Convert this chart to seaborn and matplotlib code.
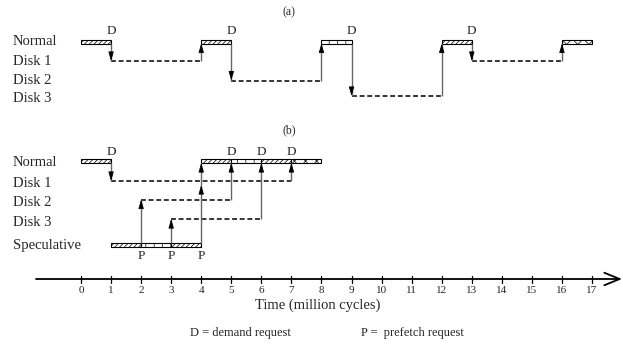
import matplotlib
matplotlib.use('Agg')
import matplotlib.pyplot as plt
import seaborn as sns

sns.set_style('white')
plt.rcParams['font.family'] = ['Liberation Serif', 'DejaVu Serif']
plt.rcParams['hatch.color'] = '#777777'
plt.rcParams['hatch.linewidth'] = 0.5

# ---------------- data ----------------
time_ticks = list(range(18))
rows_a = ['Normal', 'Disk 1', 'Disk 2', 'Disk 3']
rows_b = ['Normal', 'Disk 1', 'Disk 2', 'Disk 3', 'Speculative']

# panel (a): sequential execution
a_run_start = [0, 4, 8, 12, 16]
a_run_end = [1, 5, 9, 13, 17]
a_run_pattern = ['dense', 'dense', 'grid', 'dense', 'wave']
a_demand_time = [1, 5, 9, 13]
a_demand_disk = ['Disk 1', 'Disk 2', 'Disk 3', 'Disk 1']
a_return_time = [4, 8, 12, 16]

# panel (b): speculative execution
b_norm_start = [0, 4, 5, 6, 7]
b_norm_end = [1, 5, 6, 7, 8]
b_norm_pattern = ['dense', 'dense', 'grid', 'dense', 'wave']
b_spec_start = [1, 2, 3]
b_spec_end = [2, 3, 4]
b_spec_pattern = ['dense', 'grid', 'dense']
b_wait_disk = ['Disk 1', 'Disk 2', 'Disk 3']
b_wait_start = [1, 2, 3]
b_wait_end = [7, 5, 6]
b_demand_time = [1, 5, 6, 7]
b_prefetch_time = [2, 3, 4]

# ---------------- layout (pixel space vertically) ----------------
W, H = 623, 345
X0, U = 81.0, 30.06
row_y_a = {'Normal': 41.5, 'Disk 1': 61, 'Disk 2': 80.5, 'Disk 3': 96}
lab_y_a = {'Normal': 41.7, 'Disk 1': 61.7, 'Disk 2': 80.5, 'Disk 3': 98}
row_y_b = {'Normal': 161, 'Disk 1': 181, 'Disk 2': 199.5, 'Disk 3': 219, 'Speculative': 244.5}
lab_y_b = {'Normal': 162, 'Disk 1': 183.5, 'Disk 2': 202.7, 'Disk 3': 222.7, 'Speculative': 245}
BAR_H = 4.0
hatches = {'dense': '///////', 'grid': '||', 'wave': 'xxx'}
LINE_C = '#666666'

fig = plt.figure(figsize=(W / 100, H / 100), dpi=100)
ax = fig.add_axes([0, 0, 1, 1])
ax.set_xlim(-X0 / U, (W - X0) / U)
ax.set_ylim(H, 0)
ax.axis('off')

label_x = (13 - X0) / U


def bar(t0, t1, y, pat):
    ax.barh(y, t1 - t0, left=t0, height=BAR_H, color='white',
            edgecolor='black', linewidth=0.8, hatch=hatches[pat], zorder=3)


def arrow(t, y_from, y_to):
    ax.plot([t, t], [y_from, y_to], color=LINE_C, lw=1.0, zorder=4,
            solid_capstyle='butt')
    ax.annotate('', xy=(t, y_to), xytext=(t, y_to + (6 if y_to < y_from else -6)),
                arrowprops=dict(arrowstyle='-|>,head_length=0.55,head_width=0.16',
                                mutation_scale=10, lw=0.6, color='black',
                                shrinkA=0, shrinkB=0), zorder=5)


def dashed(t0, t1, y):
    ax.plot([t0, t1], [y, y], color='black', lw=1.1, ls=(0, (3.2, 1.8)), zorder=2)


# ---------------- panel (a) ----------------
ax.text((289 - X0) / U, 12, '(a)', ha='center', va='center', fontsize=8.5)
for r in rows_a:
    ax.text(label_x, lab_y_a[r], r, ha='left', va='center', fontsize=10.5)
for s, e, p in zip(a_run_start, a_run_end, a_run_pattern):
    bar(s, e, row_y_a['Normal'], p)
nb = row_y_a['Normal'] + BAR_H / 2
for t, d, r in zip(a_demand_time, a_demand_disk, a_return_time):
    ax.text(t, 31.5, 'D', ha='center', va='center', fontsize=9.5)
    arrow(t, nb, row_y_a[d])
    dashed(t, r, row_y_a[d])
    arrow(r, row_y_a[d], nb)

# ---------------- panel (b) ----------------
ax.text((289 - X0) / U, 130.5, '(b)', ha='center', va='center', fontsize=8.5)
for r in rows_b:
    ax.text(label_x, lab_y_b[r], r, ha='left', va='center', fontsize=10.5)
for s, e, p in zip(b_norm_start, b_norm_end, b_norm_pattern):
    bar(s, e, row_y_b['Normal'], p)
for s, e, p in zip(b_spec_start, b_spec_end, b_spec_pattern):
    bar(s, e, row_y_b['Speculative'], p)
nbb = row_y_b['Normal'] + BAR_H / 2
stop = row_y_b['Speculative'] - BAR_H / 2
for d, s, e in zip(b_wait_disk, b_wait_start, b_wait_end):
    dashed(s, e, row_y_b[d])
    arrow(e, row_y_b[d], nbb)
for t in b_demand_time:
    ax.text(t, 152, 'D', ha='center', va='center', fontsize=9.5)
# demand miss of the normal process
arrow(b_demand_time[0], nbb, row_y_b['Disk 1'])
# prefetches issued by the speculative process
for t, d in zip(b_prefetch_time[:2], ['Disk 2', 'Disk 3']):
    arrow(t, stop, row_y_b[d])
t4 = b_prefetch_time[2]
arrow(t4, stop, row_y_b['Disk 1'] + 4)
arrow(t4, row_y_b['Disk 1'] + 4, nbb)
for t in b_prefetch_time:
    ax.text(t, 256, 'P', ha='center', va='center', fontsize=9.5)

# ---------------- time axis ----------------
AX_Y = 279
ax.annotate('', xy=((622 - X0) / U, AX_Y), xytext=((36 - X0) / U, AX_Y),
            arrowprops=dict(arrowstyle='->,head_length=1.1,head_width=0.45',
                            mutation_scale=10, lw=1.3, color='black',
                            shrinkA=0, shrinkB=0))
for t in time_ticks:
    ax.plot([t, t], [AX_Y - 3.5, AX_Y + 3.5], color='black', lw=0.9)
    ax.text(t, 290.5, str(t), ha='center', va='center', fontsize=8)
ax.text((318 - X0) / U, 305, 'Time (million cycles)', ha='center', va='center', fontsize=10.5)
ax.text((190 - X0) / U, 333, 'D = demand request', ha='left', va='center', fontsize=9)
ax.text((361 - X0) / U, 333, 'P =  prefetch request', ha='left', va='center', fontsize=9)

fig.savefig('out.png', dpi=100)
